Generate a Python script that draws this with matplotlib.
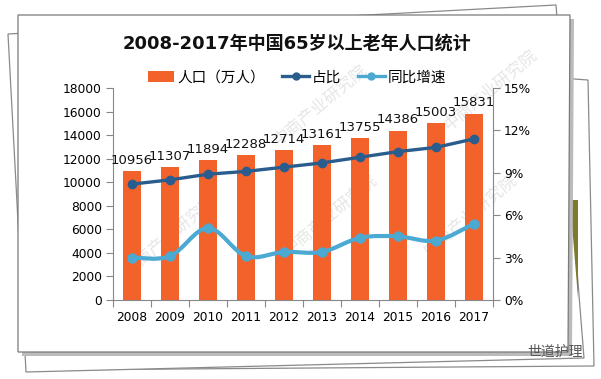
import matplotlib
matplotlib.use("Agg")
import matplotlib.pyplot as plt
import numpy as np
from matplotlib.patches import Polygon, PathPatch, Patch
from matplotlib.path import Path
from matplotlib.lines import Line2D

plt.rcParams['font.family'] = ['DejaVu Sans', 'Noto Sans CJK SC']

years = ['2008', '2009', '2010', '2011', '2012', '2013', '2014', '2015', '2016', '2017']
population = [10956, 11307, 11894, 12288, 12714, 13161, 13755, 14386, 15003, 15831]
share_pct = [8.2, 8.5, 8.9, 9.1, 9.4, 9.7, 10.1, 10.5, 10.8, 11.4]
growth_pct = [3.0, 3.1, 5.1, 3.1, 3.4, 3.4, 4.4, 4.5, 4.2, 5.4]

W, H = 601, 379
fig = plt.figure(figsize=(W / 100, H / 100), dpi=100)
fig.patch.set_facecolor('white')

def px(pts):
    return [(x / W, 1 - y / H) for x, y in pts]

# stacked paper frame
pages = [
    [(28, 40), (588, 80), (594, 366), (34, 370)],
    [(8, 34), (556, 5), (584, 358), (26, 372)],
]
for pg in pages:
    fig.patches.append(Polygon(px(pg), closed=True, transform=fig.transFigure,
                               facecolor='white', edgecolor='#8a8a8a', lw=0.9, zorder=-3))
fig.patches.append(Polygon(px([(570, 200), (578, 200), (578, 298)]), closed=True,
                           transform=fig.transFigure, facecolor='#7d7a2c', edgecolor='none', zorder=-3))
fig.patches.append(Polygon(px([(22, 19), (574, 19), (572, 356), (22, 356)]), closed=True,
                           transform=fig.transFigure, facecolor='#bbbbbb', edgecolor='none', zorder=-2))
fig.patches.append(Polygon(px([(18, 15), (570, 15), (568, 352), (18, 352)]), closed=True,
                           transform=fig.transFigure, facecolor='white', edgecolor='#7a7a7a', lw=0.9, zorder=-1))

# faint watermarks
for (wx, wy) in [(170, 235), (330, 215), (470, 215), (320, 105), (490, 90)]:
    fig.text(wx / W, 1 - wy / H, '中商产业研究院', fontsize=12, color='#e6e6e6',
             rotation=40, ha='center', va='center', zorder=-0.5)

ax = fig.add_axes([113 / W, 1 - 300 / H, (493 - 113) / W, (300 - 88) / H])
ax.set_zorder(2)
ax.set_facecolor('none')
x = np.arange(len(years))
ax.bar(x, population, width=0.45, color='#F4622B', zorder=2)
ax.set_ylim(0, 18000)
ax.set_xlim(-0.5, len(years) - 0.5)
ax.set_yticks(np.arange(0, 18001, 2000))
ax.set_xticks(x)
ax.set_xticklabels(years, fontsize=8.8)
ax.set_xticks(np.arange(-0.5, len(years), 1), minor=True)
ax.tick_params(axis='x', which='major', length=0, pad=8)
ax.tick_params(axis='x', which='minor', length=5, color='#888888', width=0.8)
ax.tick_params(axis='y', length=5, color='#888888', width=0.8, labelsize=8.8, pad=3)
for s in ['top', 'right']:
    ax.spines[s].set_visible(False)
for s in ['left', 'bottom']:
    ax.spines[s].set_color('#888888')
    ax.spines[s].set_linewidth(0.8)

for xi, v in zip(x, population):
    ax.annotate(str(v), (xi, v), xytext=(0, 3), textcoords='offset points',
                ha='center', va='bottom', fontsize=9.5, color='#111111', zorder=5)

ax2 = ax.twinx()
ax2.set_zorder(3)
ax2.set_facecolor('none')
ax2.set_ylim(0, 15)
ax2.set_yticks(np.arange(0, 16, 3))
ax2.set_yticklabels([f'{t}%' for t in range(0, 16, 3)])
ax2.tick_params(axis='y', length=5, color='#888888', width=0.8, labelsize=8.8, pad=3)
for s in ['top', 'left', 'bottom']:
    ax2.spines[s].set_visible(False)
ax2.spines['right'].set_color('#888888')
ax2.spines['right'].set_linewidth(0.8)

dark = '#2A5C8E'
light = '#4BA9D2'
ax2.plot(x, share_pct, color=dark, lw=2.4, marker='o', ms=6, zorder=4)

gx = np.asarray(x, dtype=float)
gy = np.asarray(growth_pct, dtype=float)
verts = [(gx[0], gy[0])]
codes = [Path.MOVETO]
n = len(gx)
for i in range(n - 1):
    p0 = np.array([gx[max(i - 1, 0)], gy[max(i - 1, 0)]])
    p1 = np.array([gx[i], gy[i]])
    p2 = np.array([gx[i + 1], gy[i + 1]])
    p3 = np.array([gx[min(i + 2, n - 1)], gy[min(i + 2, n - 1)]])
    c1 = p1 + (p2 - p0) / 6
    c2 = p2 - (p3 - p1) / 6
    verts += [tuple(c1), tuple(c2), tuple(p2)]
    codes += [Path.CURVE4] * 3
ax2.add_patch(PathPatch(Path(verts, codes), facecolor='none', edgecolor=light, lw=3, zorder=3))
ax2.plot(x, growth_pct, linestyle='none', color=light, marker='o', ms=6.5, zorder=3)

handles = [Patch(facecolor='#F4622B', label='人口（万人）'),
           Line2D([], [], color=dark, lw=2.4, marker='o', ms=5, label='占比'),
           Line2D([], [], color=light, lw=2.4, marker='o', ms=5, label='同比增速')]
fig.legend(handles=handles, loc='center', bbox_to_anchor=(297 / W, 1 - 77 / H), ncol=3,
           frameon=False, fontsize=10.5, handlelength=1.8, handletextpad=0.2, columnspacing=1.2)

fig.text(297 / W, 1 - 44 / H, '2008-2017年中国65岁以上老年人口统计', fontsize=13,
         fontweight='bold', ha='center', va='center', color='#111111')

fig.text(555 / W, 1 - 352 / H, '世道护理', fontsize=10, color='#555555', ha='center', va='center',
         family=['Noto Sans CJK SC'])

fig.savefig('out.png', dpi=100, facecolor='white')
